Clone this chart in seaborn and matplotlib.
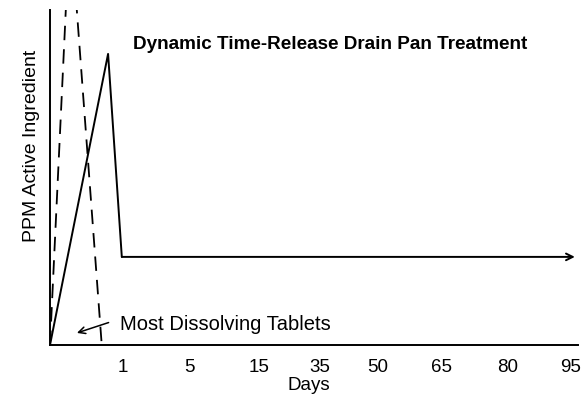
import matplotlib
matplotlib.use("Agg")
import matplotlib.pyplot as plt
import seaborn as sns
import pandas as pd

# schematic values, x in % of the axis width, y in % of the axis height
treat_x = [0, 11.0, 13.6, 99.4]
treat_y = [0, 86.9, 26.3, 26.3]
tablet_x = [0, 3.8, 9.8]
tablet_y = [0, 127, 0]
tick_pos = [13.8, 26.5, 39.6, 51.1, 62.1, 74.1, 86.7, 98.5]
tick_labels = ["1", "5", "15", "35", "50", "65", "80", "95"]

sns.set_theme(style="white")
plt.rcParams["font.family"] = ["Liberation Sans", "DejaVu Sans"]
plt.rcParams["text.color"] = "black"
plt.rcParams["axes.labelcolor"] = "black"
plt.rcParams["xtick.color"] = "black"

fig = plt.figure(figsize=(5.86, 4.01), dpi=100)
ax = fig.add_axes([50 / 586, 56 / 401, 528 / 586, 335 / 401])

treat = pd.DataFrame({"x": treat_x, "y": treat_y})
tablets = pd.DataFrame({"x": tablet_x, "y": tablet_y})

sns.lineplot(data=treat.iloc[:3], x="x", y="y", sort=False, color="black",
             lw=1.4, ax=ax)
sns.lineplot(data=tablets, x="x", y="y", sort=False, color="black",
             lw=1.3, ax=ax, dashes=False, linestyle=(0, (8, 5)))
ax.annotate("", xy=(treat_x[3], treat_y[3]), xytext=(treat_x[2], treat_y[2]),
            arrowprops=dict(arrowstyle="->", color="black", lw=1.4,
                            mutation_scale=12, shrinkA=0, shrinkB=0))

ax.annotate("", xy=(5.1, 3.6), xytext=(11.1, 6.7),
            arrowprops=dict(arrowstyle="->", color="black", lw=1.1,
                            mutation_scale=12, shrinkA=0, shrinkB=0))
ax.text(13.3, 6.0, "Most Dissolving Tablets", fontsize=14.5, va="center",
        ha="left")
ax.text(15.8, 89.8, "Dynamic Time-Release Drain Pan Treatment", fontsize=13.6,
        fontweight="bold", va="center", ha="left")

ax.set_xlim(0, 100)
ax.set_ylim(0, 100)
ax.set_xticks(tick_pos)
ax.set_xticklabels(tick_labels, fontsize=13.5)
ax.set_yticks([])
ax.tick_params(axis="x", length=0, pad=10)
ax.set_xlabel("Days", fontsize=13.5)
ax.xaxis.set_label_coords(0.49, -0.095)
ax.set_ylabel("PPM Active Ingredient", fontsize=14)
ax.yaxis.set_label_coords(-0.018, 0.594)
for side in ["top", "right"]:
    ax.spines[side].set_visible(False)
for side in ["left", "bottom"]:
    ax.spines[side].set_color("black")
    ax.spines[side].set_linewidth(1.4)

fig.savefig("out.png", dpi=100, facecolor="white")
